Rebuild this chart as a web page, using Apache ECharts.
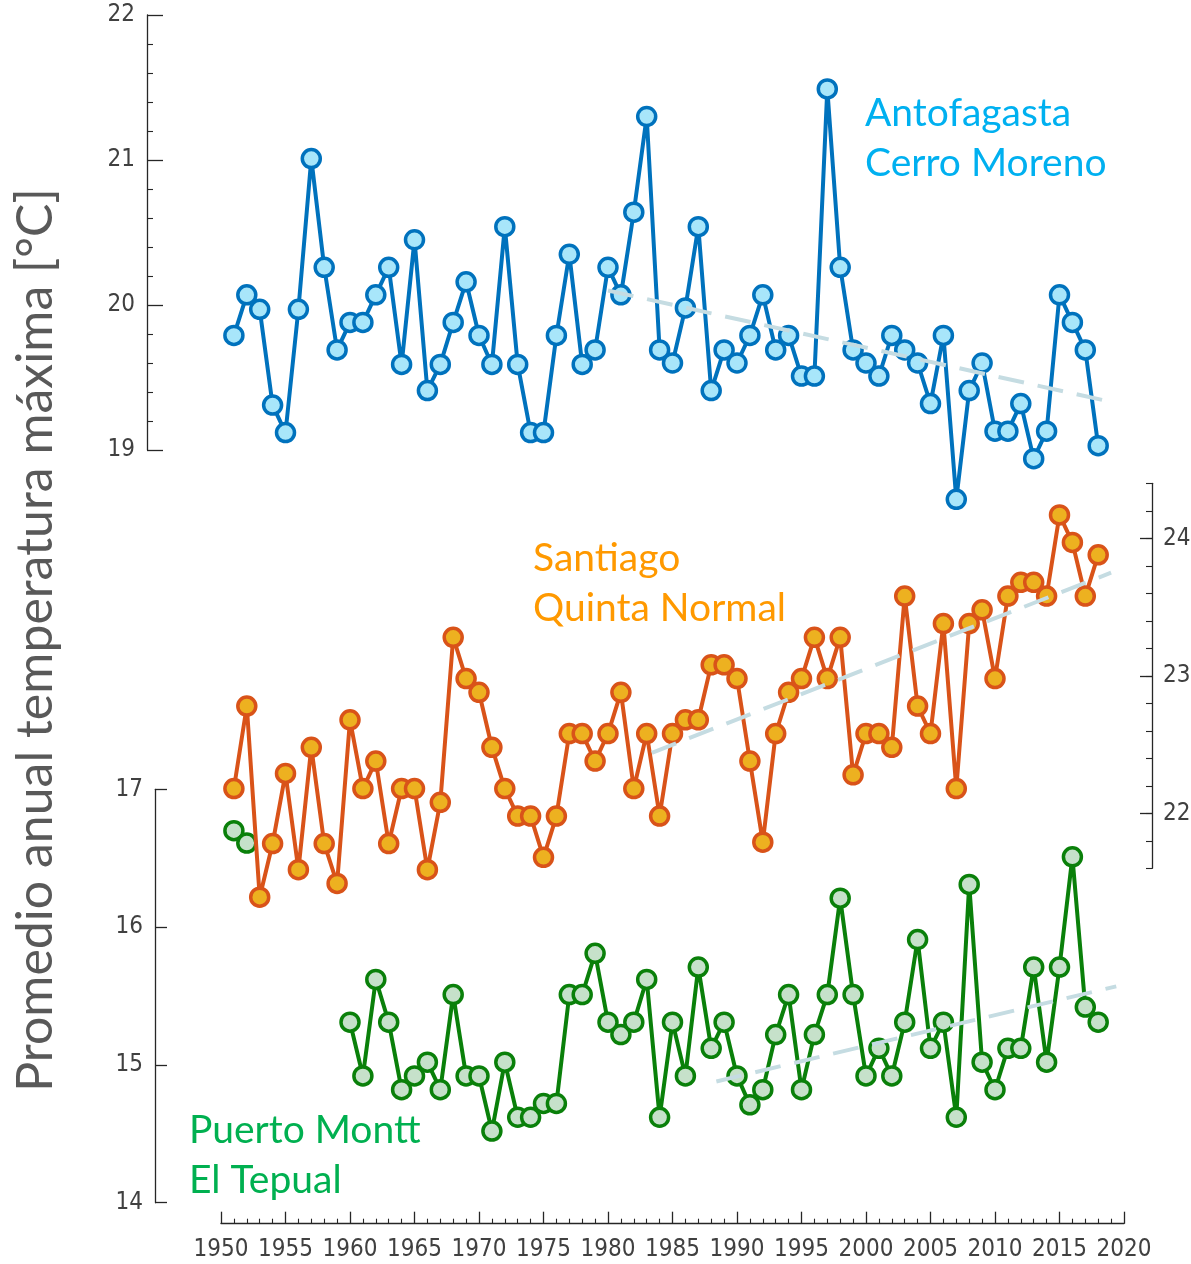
<!DOCTYPE html>
<html>
<head>
<meta charset="utf-8">
<script src="https://cdn.jsdelivr.net/npm/echarts@6/dist/echarts.min.js"></script>
<style>
  html, body { margin: 0; padding: 0; background: #fff; }
  #chart { width: 1191px; height: 1264px; }
</style>
</head>
<body>
<div id="chart"></div>
<script>
const years = [
  1951, 1952, 1953, 1954, 1955, 1956, 1957, 1958, 1959, 1960,
  1961, 1962, 1963, 1964, 1965, 1966, 1967, 1968, 1969, 1970,
  1971, 1972, 1973, 1974, 1975, 1976, 1977, 1978, 1979, 1980,
  1981, 1982, 1983, 1984, 1985, 1986, 1987, 1988, 1989, 1990,
  1991, 1992, 1993, 1994, 1995, 1996, 1997, 1998, 1999, 2000,
  2001, 2002, 2003, 2004, 2005, 2006, 2007, 2008, 2009, 2010,
  2011, 2012, 2013, 2014, 2015, 2016, 2017, 2018
];

const antofagasta = [
  19.79, 20.07, 19.97, 19.31, 19.12, 19.97, 21.01, 20.26, 19.69, 19.88,
  19.88, 20.07, 20.26, 19.59, 20.45, 19.41, 19.59, 19.88, 20.16, 19.79,
  19.59, 20.54, 19.59, 19.12, 19.12, 19.79, 20.35, 19.59, 19.69, 20.26,
  20.07, 20.64, 21.30, 19.69, 19.60, 19.98, 20.54, 19.41, 19.69, 19.60,
  19.79, 20.07, 19.69, 19.79, 19.51, 19.51, 21.49, 20.26, 19.69, 19.60,
  19.51, 19.79, 19.69, 19.60, 19.32, 19.79, 18.66, 19.41, 19.60, 19.13,
  19.13, 19.32, 18.94, 19.13, 20.07, 19.88, 19.69, 19.03
];

const santiago = [
  22.18, 22.78, 21.39, 21.78, 22.29, 21.59, 22.48, 21.78, 21.49, 22.68,
  22.18, 22.38, 21.78, 22.18, 22.18, 21.59, 22.08, 23.28, 22.98, 22.88,
  22.48, 22.18, 21.98, 21.98, 21.68, 21.98, 22.58, 22.58, 22.38, 22.58,
  22.88, 22.18, 22.58, 21.98, 22.58, 22.68, 22.68, 23.08, 23.08, 22.98,
  22.38, 21.79, 22.58, 22.88, 22.98, 23.28, 22.98, 23.28, 22.28, 22.58,
  22.58, 22.48, 23.58, 22.78, 22.58, 23.38, 22.18, 23.38, 23.48, 22.98,
  23.58, 23.68, 23.68, 23.58, 24.17, 23.97, 23.58, 23.88
];

// no data 1953-1959
const puertoMontt = [
  16.70, 16.61, null, null, null, null, null, null, null, 15.31,
  14.92, 15.62, 15.31, 14.82, 14.92, 15.02, 14.82, 15.51, 14.92, 14.92,
  14.52, 15.02, 14.62, 14.62, 14.72, 14.72, 15.51, 15.51, 15.81, 15.31,
  15.22, 15.31, 15.62, 14.62, 15.31, 14.92, 15.71, 15.12, 15.31, 14.92,
  14.71, 14.82, 15.22, 15.51, 14.82, 15.22, 15.51, 16.21, 15.51, 14.92,
  15.12, 14.92, 15.31, 15.91, 15.12, 15.31, 14.62, 16.31, 15.02, 14.82,
  15.12, 15.12, 15.71, 15.02, 15.71, 16.51, 15.42, 15.31
];

// trend lines: [start year, end year], [start value, end value]
const antoTrendYears = [1980, 2019.1];
const antoTrendValues = [20.10, 19.33];
const santTrendYears = [1983.4, 2019.0];
const santTrendValues = [22.44, 23.75];
const pmTrendYears = [1988.4, 2019.4];
const pmTrendValues = [14.88, 15.57];

const xTicks = [1950, 2020];
const antoTicks = [19, 22];
const santRange = [21.6, 24.4];
const santLabels = [22, 23, 24];
const pmTicks = [14, 17];

const tickFont = '"Liberation Sans Narrow", "DejaVu Sans Condensed", sans-serif';
const textFont = 'Lato, "Noto Sans", sans-serif';
const axisColor = '#262626';
const labelColor = '#404040';

const pairs = (xs, ys) => xs.map((x, i) => [x, ys[i] == null ? '-' : ys[i]]);

const chart = echarts.init(document.getElementById('chart'));

const gridBase = { left: 221, right: 67, outerBoundsMode: 'none' };

const trendStyle = {
  color: '#C5DCE2',
  width: 4,
  type: [26, 14]
};

const option = {
  animation: false,
  backgroundColor: '#fff',
  grid: [
    { ...gridBase, top: 15, height: 435 },
    { ...gridBase, top: 483.3, height: 385 },
    { ...gridBase, top: 789.3, height: 413.4 }
  ],
  xAxis: [
    { gridIndex: 0, type: 'value', min: xTicks[0], max: xTicks[1], show: false },
    { gridIndex: 1, type: 'value', min: xTicks[0], max: xTicks[1], show: false },
    {
      gridIndex: 2,
      type: 'value',
      min: xTicks[0],
      max: xTicks[1],
      interval: 5,
      offset: 21,
      axisLine: { show: true, lineStyle: { color: axisColor, width: 1.3 } },
      axisTick: { show: true, inside: true, length: 12, lineStyle: { color: axisColor, width: 1.3 } },
      minorTick: { show: true, splitNumber: 5, length: 5, lineStyle: { color: axisColor, width: 1.1 } },
      splitLine: { show: false },
      axisLabel: {
        margin: 14,
        fontSize: 24,
        fontFamily: tickFont,
        color: labelColor,
        formatter: (v) => String(v)
      }
    }
  ],
  yAxis: [
    {
      // Antofagasta
      gridIndex: 0,
      type: 'value',
      min: antoTicks[0],
      max: antoTicks[1],
      interval: 1,
      position: 'left',
      offset: 74,
      axisLine: { show: true, lineStyle: { color: axisColor, width: 1.3 } },
      axisTick: { show: true, inside: true, length: 16, lineStyle: { color: axisColor, width: 1.3 } },
      minorTick: { show: true, splitNumber: 5, length: 6, lineStyle: { color: axisColor, width: 1.1 } },
      splitLine: { show: false },
      axisLabel: { margin: 12, fontSize: 24, fontFamily: tickFont, color: labelColor }
    },
    {
      // Santiago, small ticks every 0.2
      gridIndex: 1,
      type: 'value',
      min: santRange[0],
      max: santRange[1],
      interval: 0.2,
      position: 'right',
      offset: 28,
      axisLine: { show: true, lineStyle: { color: axisColor, width: 1.3 } },
      axisTick: { show: true, inside: true, length: 6, lineStyle: { color: axisColor, width: 1.1 } },
      splitLine: { show: false },
      axisLabel: { show: false }
    },
    {
      // Santiago, big ticks + labels
      gridIndex: 1,
      type: 'value',
      min: santRange[0],
      max: santRange[1],
      position: 'right',
      offset: 28,
      axisLine: { show: false },
      axisTick: { show: true, inside: true, length: 12, customValues: santLabels, lineStyle: { color: axisColor, width: 1.3 } },
      splitLine: { show: false },
      axisLabel: { margin: 11, fontSize: 24, fontFamily: tickFont, color: labelColor, customValues: santLabels }
    },
    {
      // Puerto Montt
      gridIndex: 2,
      type: 'value',
      min: pmTicks[0],
      max: pmTicks[1],
      interval: 1,
      position: 'left',
      offset: 66,
      axisLine: { show: true, lineStyle: { color: axisColor, width: 1.3 } },
      axisTick: { show: true, inside: true, length: 12, lineStyle: { color: axisColor, width: 1.3 } },
      splitLine: { show: false },
      axisLabel: { margin: 12, fontSize: 24, fontFamily: tickFont, color: labelColor }
    }
  ],
  series: [
    {
      name: 'Puerto Montt',
      type: 'line',
      xAxisIndex: 2,
      yAxisIndex: 3,
      data: pairs(years, puertoMontt),
      connectNulls: false,
      clip: false,
      symbol: 'circle',
      symbolSize: 18,
      lineStyle: { color: '#0A800A', width: 4 },
      itemStyle: { color: '#C6E1CA', borderColor: '#0A800A', borderWidth: 3.5 },
      z: 2
    },
    {
      name: 'Santiago',
      type: 'line',
      xAxisIndex: 1,
      yAxisIndex: 1,
      data: pairs(years, santiago),
      clip: false,
      symbol: 'circle',
      symbolSize: 18,
      lineStyle: { color: '#D95319', width: 4 },
      itemStyle: { color: '#EDB120', borderColor: '#D95319', borderWidth: 3.5 },
      z: 3
    },
    {
      name: 'Antofagasta',
      type: 'line',
      xAxisIndex: 0,
      yAxisIndex: 0,
      data: pairs(years, antofagasta),
      clip: false,
      symbol: 'circle',
      symbolSize: 18,
      lineStyle: { color: '#0072BD', width: 4 },
      itemStyle: { color: '#A8E6FA', borderColor: '#0072BD', borderWidth: 3.5 },
      z: 4
    },
    {
      type: 'line',
      xAxisIndex: 0,
      yAxisIndex: 0,
      data: pairs(antoTrendYears, antoTrendValues),
      clip: false,
      symbol: 'none',
      lineStyle: trendStyle,
      z: 5
    },
    {
      type: 'line',
      xAxisIndex: 1,
      yAxisIndex: 1,
      data: pairs(santTrendYears, santTrendValues),
      clip: false,
      symbol: 'none',
      lineStyle: trendStyle,
      z: 5
    },
    {
      type: 'line',
      xAxisIndex: 2,
      yAxisIndex: 3,
      data: pairs(pmTrendYears, pmTrendValues),
      clip: false,
      symbol: 'none',
      lineStyle: trendStyle,
      z: 5
    }
  ],
  graphic: [
    {
      type: 'text',
      x: 36,
      y: 640,
      rotation: Math.PI / 2,
      style: {
        text: 'Promedio anual temperatura máxima [°C]',
        font: '50px ' + textFont,
        fill: '#595959',
        align: 'center',
        verticalAlign: 'middle'
      }
    },
    { type: 'text', x: 865, y: 113, style: { text: 'Antofagasta', font: '39px ' + textFont, fill: '#00B0F0', verticalAlign: 'middle' } },
    { type: 'text', x: 865, y: 163, style: { text: 'Cerro Moreno', font: '39px ' + textFont, fill: '#00B0F0', verticalAlign: 'middle' } },
    { type: 'text', x: 533, y: 558, style: { text: 'Santiago', font: '39px ' + textFont, fill: '#FF9900', verticalAlign: 'middle' } },
    { type: 'text', x: 533, y: 608, style: { text: 'Quinta Normal', font: '39px ' + textFont, fill: '#FF9900', verticalAlign: 'middle' } },
    { type: 'text', x: 189, y: 1130, style: { text: 'Puerto Montt', font: '39px ' + textFont, fill: '#00B050', verticalAlign: 'middle' } },
    { type: 'text', x: 189, y: 1180, style: { text: 'El Tepual', font: '39px ' + textFont, fill: '#00B050', verticalAlign: 'middle' } }
  ]
};

chart.setOption(option);
</script>
</body>
</html>
